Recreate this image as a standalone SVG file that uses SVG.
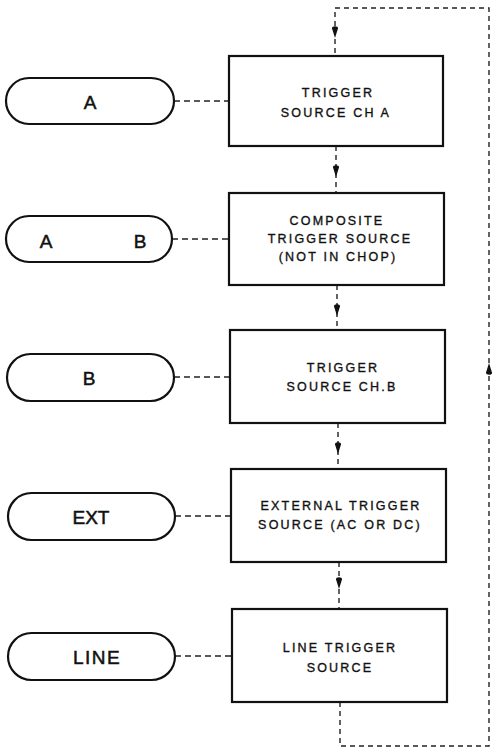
<svg xmlns="http://www.w3.org/2000/svg" xmlns:xlink="http://www.w3.org/1999/xlink" width="492" height="749" viewBox="0 0 492 749">
<style>
.box{fill:#fff;stroke:#111;stroke-width:2.2}
.pill{fill:#fff;stroke:#111;stroke-width:2.2}
.dash{fill:none;stroke:#222;stroke-width:1.4;stroke-dasharray:6 4}
.vdash{fill:none;stroke:#222;stroke-width:1.4;stroke-dasharray:5 4}
.bt{font-family:"Liberation Sans",Arial,sans-serif;font-size:12.5px;letter-spacing:2.2px;fill:#111;stroke:#111;stroke-width:0.35;text-anchor:middle}
.pt{font-family:"Liberation Sans",Arial,sans-serif;font-size:19px;fill:#111;stroke:#111;stroke-width:0.5;text-anchor:middle}
.ah{fill:#111}
</style>
<defs>
<path id="ahd" d="M0,0 L-3,-9.5 C-3.6,-12.5 3.6,-12.5 3,-9.5 Z"/>
</defs>
<rect width="492" height="749" fill="#fff"/>
<g id="connectors">
<line class="dash" x1="174" y1="101" x2="229" y2="101"/>
<line class="dash" x1="172" y1="239" x2="229" y2="239"/>
<line class="dash" x1="174" y1="377" x2="230" y2="377"/>
<line class="dash" x1="175" y1="516" x2="231" y2="516"/>
<line class="dash" x1="175" y1="656" x2="232" y2="656"/>
<line class="vdash" x1="336" y1="146" x2="336" y2="193"/>
<line class="vdash" x1="337" y1="285" x2="337" y2="330"/>
<line class="vdash" x1="338" y1="423" x2="338" y2="469"/>
<line class="vdash" x1="339" y1="562" x2="339" y2="609"/>
<path class="vdash" d="M340,702 V746 H489 V8 H335 V56"/>
<use class="ah" xlink:href="#ahd" transform="translate(335,38)"/>
<use class="ah" xlink:href="#ahd" transform="translate(336,177)"/>
<use class="ah" xlink:href="#ahd" transform="translate(337,316)"/>
<use class="ah" xlink:href="#ahd" transform="translate(338,454)"/>
<use class="ah" xlink:href="#ahd" transform="translate(339,589)"/>
<use class="ah" xlink:href="#ahd" transform="translate(489,363) rotate(180)"/>
</g>
<g id="pill-a">
<rect class="pill" x="6" y="78" width="168" height="46" rx="23"/>
<text class="pt" x="90" y="109">A</text>
</g>
<g id="pill-ab">
<rect class="pill" x="6" y="216" width="166" height="46" rx="23"/>
<text class="pt" x="46" y="248">A</text>
<text class="pt" x="140" y="248">B</text>
</g>
<g id="pill-b">
<rect class="pill" x="7" y="354" width="167" height="47" rx="23.5"/>
<text class="pt" x="89" y="385">B</text>
</g>
<g id="pill-ext">
<rect class="pill" x="8" y="493" width="167" height="47" rx="23.5"/>
<text class="pt" x="91" y="524">EXT</text>
</g>
<g id="pill-line">
<rect class="pill" x="8" y="633" width="167" height="47" rx="23.5"/>
<text class="pt" x="97" y="664" style="letter-spacing:1.5px">LINE</text>
</g>
<g id="box-cha">
<rect class="box" x="229" y="56" width="214" height="90"/>
<text class="bt" x="338" y="97">TRIGGER</text>
<text class="bt" x="336" y="117">SOURCE CH A</text>
</g>
<g id="box-composite">
<rect class="box" x="229" y="193" width="215" height="92"/>
<text class="bt" x="337" y="225">COMPOSITE</text>
<text class="bt" x="340" y="243">TRIGGER SOURCE</text>
<text class="bt" x="338" y="261">(NOT IN CHOP)</text>
</g>
<g id="box-chb">
<rect class="box" x="230" y="330" width="215" height="93"/>
<text class="bt" x="343" y="372">TRIGGER</text>
<text class="bt" x="342" y="391">SOURCE CH.B</text>
</g>
<g id="box-ext">
<rect class="box" x="231" y="469" width="215" height="93"/>
<text class="bt" x="341" y="510">EXTERNAL TRIGGER</text>
<text class="bt" x="340" y="529">SOURCE (AC OR DC)</text>
</g>
<g id="box-line">
<rect class="box" x="232" y="609" width="215" height="93"/>
<text class="bt" x="340" y="652">LINE TRIGGER</text>
<text class="bt" x="340" y="672">SOURCE</text>
</g>
</svg>
